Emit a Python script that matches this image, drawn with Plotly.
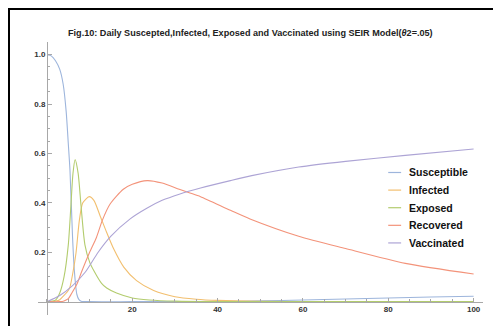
import plotly.graph_objects as go

# Time points and fractions for each compartment of the SEIR model
t_s = [0, 1, 2, 3, 3.8, 4.5, 5, 5.4, 6, 6.4, 7, 7.5, 8, 10, 20, 30, 40, 50, 60, 70, 80, 90, 100]
susceptible = [1.0, 0.995, 0.975, 0.94, 0.88, 0.77, 0.64, 0.53, 0.26, 0.13, 0.03, 0.008, 0.002, 0, 0, 0,
               0.001, 0.003, 0.007, 0.011, 0.015, 0.019, 0.022]

t_i = [0, 2, 3, 4, 5, 5.4, 6, 6.8, 7.6, 8.4, 9.9, 11, 12.4, 14, 15.6, 18, 21, 25, 30, 35, 40, 50, 60, 100]
infected = [0, 0.002, 0.008, 0.025, 0.045, 0.06, 0.11, 0.196, 0.33, 0.40, 0.425, 0.41, 0.35, 0.28, 0.215,
            0.14, 0.085, 0.045, 0.02, 0.01, 0.005, 0.001, 0, 0]

t_e = [0, 1, 2, 3, 4, 5, 5.6, 6.1, 6.6, 7.3, 8, 8.9, 10, 11, 12.8, 14, 16.3, 20, 24, 30, 40, 100]
exposed = [0, 0.001, 0.006, 0.035, 0.10, 0.23, 0.385, 0.52, 0.575, 0.52, 0.385, 0.23, 0.16, 0.125, 0.074,
           0.055, 0.035, 0.015, 0.007, 0.002, 0, 0]

t_r = [0, 3, 4, 5, 5.8, 7, 8.1, 10, 11.6, 13, 14.8, 17.9, 20, 23.5, 27, 31, 33.5, 36, 43, 47.6, 59, 70, 84, 100]
recovered = [0, 0, 0.003, 0.012, 0.034, 0.07, 0.12, 0.2, 0.26, 0.33, 0.395, 0.455, 0.475, 0.49, 0.48, 0.455,
             0.44, 0.425, 0.37, 0.335, 0.265, 0.215, 0.155, 0.112]

t_v = [0, 3, 6, 9, 12, 15, 19.5, 23.4, 27, 31, 36, 43, 48, 59, 70, 84, 100]
vaccinated = [0, 0.025, 0.065, 0.12, 0.2, 0.265, 0.335, 0.378, 0.41, 0.435, 0.46, 0.49, 0.51, 0.545, 0.568,
              0.592, 0.618]

names = ["Susceptible", "Infected", "Exposed", "Recovered", "Vaccinated"]
colors = ["#9DB5DC", "#F2BF6F", "#B3CC6E", "#F3937A", "#ADA4D5"]
series = [(t_s, susceptible), (t_i, infected), (t_e, exposed), (t_r, recovered), (t_v, vaccinated)]

x_ticks = [20, 40, 60, 80, 100]
y_ticks = [0.2, 0.4, 0.6, 0.8, 1.0]
y_tick_text = ["0.2", "0.4", "0.6", "0.8", "1.0"]

X_RANGE = [-2.1, 102.2]
Y_RANGE = [-0.054, 1.051]

fig = go.Figure()
for name, color, (tx, vals) in zip(names, colors, series):
    fig.add_trace(go.Scatter(x=tx, y=vals, mode="lines", name=name, showlegend=False,
                             line=dict(color=color, width=1.1, shape="spline", smoothing=0.7)))

tick_font = dict(family="Liberation Sans", size=8, color="#333333")
axis_common = dict(showgrid=False, zeroline=False, showline=True, linecolor="#a8a8a8", linewidth=1,
                   ticks="inside", ticklen=4, tickcolor="#a8a8a8", tickwidth=1,
                   tickfont=tick_font, anchor="free")

fig.update_layout(
    width=496, height=329,
    margin=dict(l=38, r=13, t=42, b=14),
    paper_bgcolor="white", plot_bgcolor="white",
    title=dict(text="<b>Fig.10: Daily Suscepted,Infected, Exposed and Vaccinated using SEIR Model(<i>θ</i>2=.05)</b>",
               x=68 / 496, xanchor="left", y=0.9, yanchor="middle",
               font=dict(family="Liberation Sans", size=9.1, color="#222222")),
    xaxis=dict(range=X_RANGE, tickmode="array", tickvals=x_ticks,
               ticktext=[f"<b>{v}</b>" for v in x_ticks],
               position=(0 - Y_RANGE[0]) / (Y_RANGE[1] - Y_RANGE[0]),
               minor=dict(tickmode="linear", tick0=0, dtick=5, ticks="inside", ticklen=2.5,
                          tickcolor="#a8a8a8"),
               **axis_common),
    yaxis=dict(range=Y_RANGE, tickmode="array", tickvals=y_ticks,
               ticktext=[f"<b>{v}</b>" for v in y_tick_text],
               position=(0 - X_RANGE[0]) / (X_RANGE[1] - X_RANGE[0]),
               minor=dict(tickmode="linear", tick0=0, dtick=0.05, ticks="inside", ticklen=2.5,
                          tickcolor="#a8a8a8"),
               **axis_common),
)

# Legend drawn as short line swatches with bold labels
legend_top = 0.522
legend_step = 0.0645
for k, (name, color) in enumerate(zip(names, colors)):
    yy = legend_top - k * legend_step
    fig.add_shape(type="line", xref="paper", yref="paper", x0=0.787, x1=0.816, y0=yy, y1=yy,
                  line=dict(color=color, width=1.2))
    fig.add_annotation(xref="paper", yref="paper", x=0.83, y=yy, text=f"<b>{name}</b>",
                       showarrow=False, xanchor="left", yanchor="middle",
                       font=dict(family="Liberation Sans", size=10.5, color="#111111"))

# Black frame edges (top and left) around the figure
px_to_x = lambda p: (p - 38) / 445
py_to_y = lambda p: (315 - p) / 273
fig.add_shape(type="line", xref="paper", yref="paper", x0=px_to_x(8), x1=px_to_x(493),
              y0=py_to_y(9), y1=py_to_y(9), line=dict(color="black", width=2), layer="above")
fig.add_shape(type="line", xref="paper", yref="paper", x0=px_to_x(9), x1=px_to_x(9),
              y0=py_to_y(8), y1=py_to_y(326), line=dict(color="black", width=2), layer="above")

fig.write_html("out.html")
